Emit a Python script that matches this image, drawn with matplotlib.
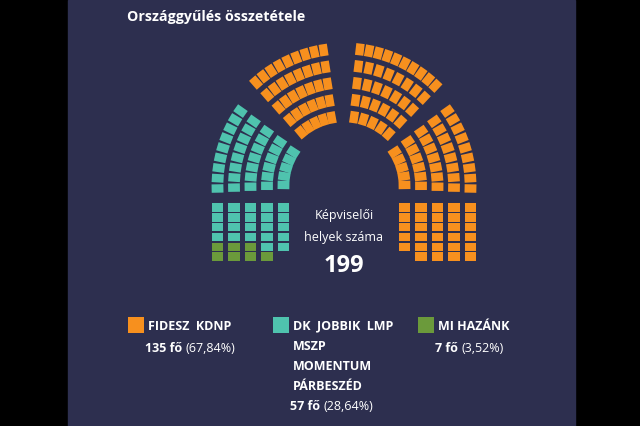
import numpy as np
import matplotlib
matplotlib.use("Agg")
import matplotlib.pyplot as plt
from matplotlib.patches import Polygon, Rectangle

plt.rcParams['font.family'] = ['Open Sans', 'DejaVu Sans']

# --- data ---
party_names = ["FIDESZ  KDNP", "DK  JOBBIK  LMP\nMSZP\nMOMENTUM\nPÁRBESZÉD", "MI HAZÁNK"]
party_seats = [135, 57, 7]
party_colors = ["#f7901e", "#4fc3ae", "#6b9a3b"]
total_seats = sum(party_seats)

# hemicycle sectors: (party index, angle from, angle to, seats per row inner->outer)
sector_party = [1, 0, 0, 0]
sector_angles = [(143, 183), (97, 133), (45, 85), (-3, 37)]
sector_rows = [[5, 6, 7, 8, 9], [5, 6, 7, 8, 9], [5, 6, 7, 8, 10], [5, 6, 7, 8, 9]]
sector_offset = [0, 7, 7, 0]

# straight blocks under the arc, columns inner->outer
left_block_dk = [5, 5, 4, 4, 4]
left_block_mi = [0, 1, 2, 2, 2]
right_block_fidesz = [5, 6, 6, 6, 6]

# --- geometry (pixels) ---
cx, cy = 344, 186
row_r = [60.5 + 16.5 * i for i in range(5)]
ry_scale = 1.03
seat_w, seat_h = 11.8, 8.4
block_top, block_pitch = 207.5, 9.8
bg = "#2d2f4f"

fig = plt.figure(figsize=(6.4, 4.26), dpi=100, facecolor="black")
ax = fig.add_axes([0, 0, 1, 1])
ax.set_xlim(0, 640)
ax.set_ylim(426, 0)
ax.axis("off")
ax.add_patch(Rectangle((68, 0), 507, 426, color=bg, zorder=0))


def seat(x, y, ang, color):
    u = np.array([np.cos(ang), -np.sin(ang)])
    v = np.array([np.sin(ang), np.cos(ang)])
    c = np.array([x, y])
    pts = [c + u * seat_w / 2 + v * seat_h / 2, c + u * seat_w / 2 - v * seat_h / 2,
           c - u * seat_w / 2 - v * seat_h / 2, c - u * seat_w / 2 + v * seat_h / 2]
    ax.add_patch(Polygon(pts, closed=True, color=color, lw=0, zorder=2))


for p, (a0, a1), rows, off in zip(sector_party, sector_angles, sector_rows, sector_offset):
    for r, n in zip(row_r, rows):
        rr = r + off
        d = np.degrees((seat_h / 2) / rr)
        for a in np.linspace(a0 + d, a1 - d, n):
            t = np.radians(a)
            seat(cx + rr * np.cos(t), cy - rr * ry_scale * np.sin(t), t, party_colors[p])

for i, r in enumerate(row_r):
    for k in range(left_block_dk[i]):
        seat(cx - r, block_top + k * block_pitch, np.pi, party_colors[1])
    for k in range(left_block_mi[i]):
        seat(cx - r, block_top + (left_block_dk[i] + k) * block_pitch, np.pi, party_colors[2])
    for k in range(right_block_fidesz[i]):
        seat(cx + r, block_top + k * block_pitch, 0, party_colors[0])

# --- texts ---
ax.text(127, 17, "Országgyűlés összetétele", color="white", fontsize=10.3,
        fontweight="bold", va="center", ha="left")
ax.text(cx, 216, "Képviselői", color="white", fontsize=9, ha="center", va="center")
ax.text(cx, 238, "helyek száma", color="white", fontsize=9, ha="center", va="center")
ax.text(cx, 266, str(total_seats), color="white", fontsize=17, fontweight="bold",
        ha="center", va="center")

renderer = fig.canvas.get_renderer()
legend_x = [128, 273, 418]
line_gap = 20
for name, n, col, lx in zip(party_names, party_seats, party_colors, legend_x):
    ax.add_patch(Rectangle((lx, 317), 16, 16, color=col, lw=0, zorder=2))
    lines = name.split("\n")
    for j, ln in enumerate(lines):
        ax.text(lx + 20, 326 + j * line_gap, ln, color="white", fontsize=9,
                fontweight="bold", va="center", ha="left")
    yy = 326 + len(lines) * line_gap + (1 if len(lines) > 1 else 2)
    bx = lx + 17
    t1 = ax.text(bx, yy, f"{n} fő ", color="white", fontsize=9, fontweight="bold",
                 va="center", ha="left")
    w = t1.get_window_extent(renderer).width
    pct = f"({100 * n / total_seats:.2f}%)".replace(".", ",")
    ax.text(bx + w, yy, pct, color="white", fontsize=9, va="center", ha="left")

fig.savefig("out.png", dpi=100, facecolor="black")
